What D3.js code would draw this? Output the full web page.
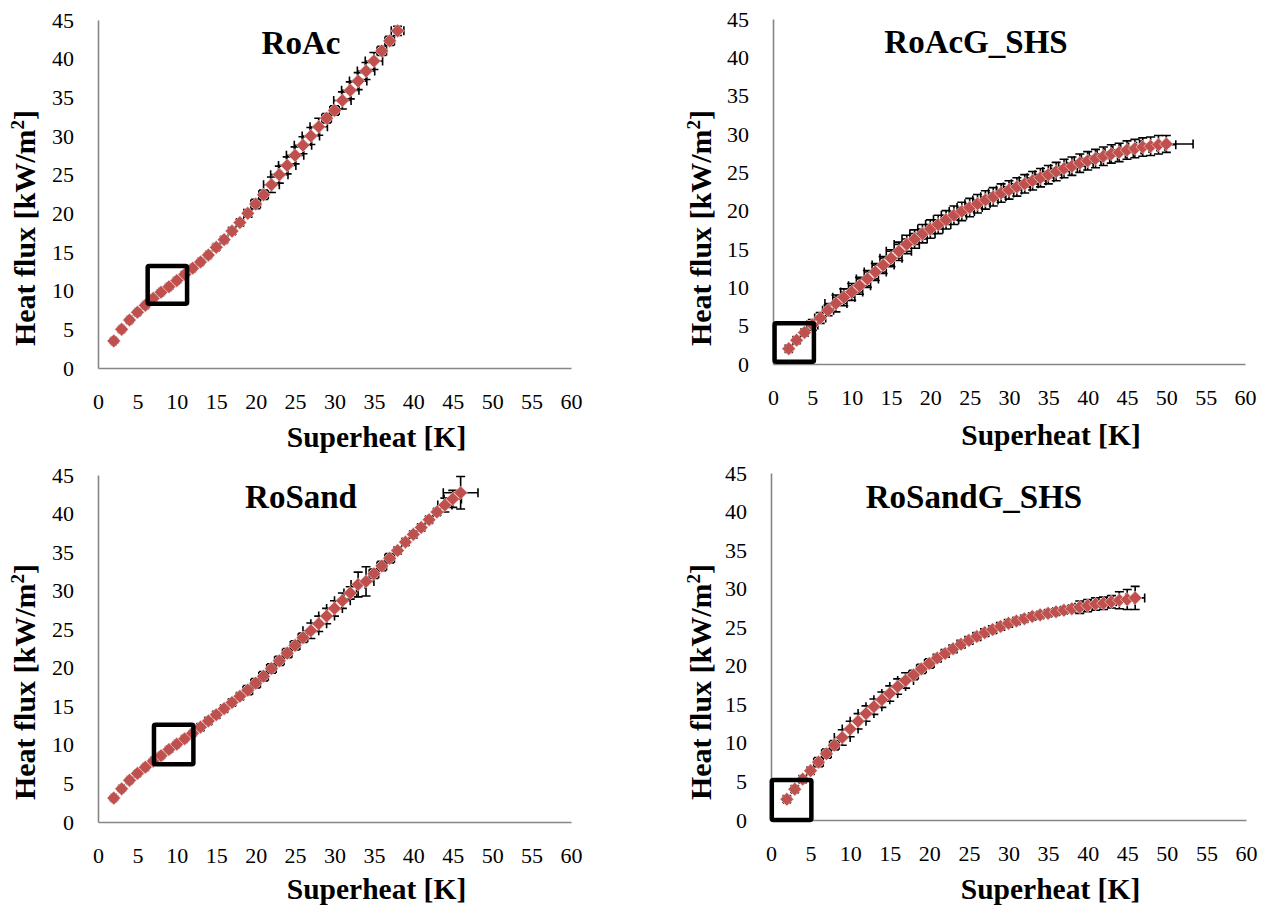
<!DOCTYPE html>
<html><head><meta charset="utf-8">
<script src="https://cdn.jsdelivr.net/npm/d3@7"></script>
<style>body{margin:0;background:#fff}svg{display:block}text{font-family:'Liberation Serif','Times New Roman',Times,serif}</style>
</head><body>
<svg id="chart" width="1276" height="913"></svg>
<script>
// ---------- data ----------
const xTicks = [0,5,10,15,20,25,30,35,40,45,50,55,60];
const yTicks = [0,5,10,15,20,25,30,35,40,45];
const panelTitles = ["RoAc","RoAcG_SHS","RoSand","RoSandG_SHS"];
const xTitle = "Superheat [K]";

const roAcX = [2,3,4,5,6,7,8,9,10,11,12,13,14,15,16,17,18,19,20,21,22,23,24,25,26,27,28,29,30,31,32,33,34,35,36,37,38];
const roAcY = [3.5,5.0,6.2,7.2,8.1,9.0,9.8,10.5,11.3,12.1,12.9,13.7,14.6,15.6,16.6,17.7,18.8,20.0,21.2,22.4,23.7,25.0,26.2,27.5,28.8,30.0,31.2,32.3,33.3,34.6,35.9,37.1,38.4,39.7,41.0,42.3,43.6];
const roAcXErr = [0.3,0.3,0.3,0.3,0.3,0.3,0.3,0.3,0.3,0.3,0.3,0.3,0.3,0.35,0.35,0.4,0.4,0.5,0.6,0.6,1.0,1.1,1.1,1.1,1.1,1.1,1.1,0.6,0.6,1.1,1.1,1.1,1.1,1.1,0.6,0.6,0.8];
const roAcYErr = [0.3,0.3,0.3,0.3,0.3,0.3,0.3,0.3,0.3,0.3,0.3,0.3,0.3,0.35,0.35,0.4,0.4,0.5,0.6,0.6,1.0,1.1,1.1,1.1,1.1,1.1,1.1,0.6,0.6,1.1,1.1,1.1,1.1,1.1,0.6,0.6,0.6];
const roAcBox = [6.3,11.3,8.3,13.2];

const roAcGX = [2,3,4,5,6,7,8,9,10,11,12,13,14,15,16,17,18,19,20,21,22,23,24,25,26,27,28,29,30,31,32,33,34,35,36,37,38,39,40,41,42,43,44,45,46,47,48,49,50];
const roAcGY = [2.0,3.1,4.1,5.1,6.0,7.0,7.9,8.7,9.4,10.2,11.1,12.0,12.9,13.8,14.7,15.6,16.3,17.0,17.6,18.2,18.8,19.4,19.9,20.4,20.9,21.4,21.8,22.3,22.7,23.1,23.5,23.9,24.3,24.7,25.1,25.5,25.8,26.2,26.5,26.8,27.1,27.4,27.6,27.9,28.1,28.3,28.4,28.6,28.7];
const roAcGXErr = [0.4,0.4,0.4,0.7,0.7,0.7,1.4,1.4,1.4,1.4,1.4,1.4,1.4,1.4,1.6,1.6,1.6,1.6,1.6,1.6,1.6,1.6,1.6,1.6,1.6,1.6,1.6,1.6,1.6,1.7,1.7,1.7,1.7,1.7,1.7,1.7,1.7,1.7,1.7,1.8,1.8,1.8,1.8,1.8,1.8,1.8,1.8,2.2,3.4];
const roAcGYErr = [0.4,0.4,0.4,0.7,0.7,0.7,1.1,1.1,1.1,1.1,1.1,1.1,1.1,1.1,1.2,1.2,1.2,1.2,1.2,1.2,1.2,1.2,1.2,1.2,1.2,1.2,1.2,1.2,1.2,1.2,1.2,1.2,1.2,1.2,1.2,1.2,1.2,1.2,1.2,1.2,1.2,1.2,1.2,1.2,1.2,1.2,1.2,1.2,1.1];
const roAcGBox = [0.2,5.2,0.3,5.3];

const roSandX = [2,3,4,5,6,7,8,9,10,11,12,13,14,15,16,17,18,19,20,21,22,23,24,25,26,27,28,29,30,31,32,33,34,35,36,37,38,39,40,41,42,43,44,45,46];
const roSandY = [3.1,4.3,5.4,6.3,7.1,7.9,8.6,9.4,10.1,10.8,11.5,12.3,13.1,13.9,14.7,15.5,16.3,17.1,18.0,18.9,19.9,20.9,21.9,22.9,23.9,24.8,25.7,26.7,27.7,28.7,29.7,30.8,31.2,32.2,33.2,34.2,35.2,36.3,37.3,38.2,39.2,40.2,41.1,41.9,42.7];
const roSandXErr = [0.3,0.3,0.3,0.3,0.3,0.3,0.3,0.3,0.3,0.3,0.3,0.4,0.4,0.4,0.4,0.4,0.4,0.6,0.6,0.6,0.6,0.6,0.6,0.6,0.6,1.0,1.0,1.0,1.0,1.0,0.8,0.9,1.0,0.6,0.6,0.6,0.4,0.4,0.4,0.4,0.4,0.4,0.9,1.1,2.2];
const roSandYErr = [0.3,0.3,0.3,0.3,0.3,0.3,0.3,0.3,0.3,0.3,0.3,0.4,0.4,0.4,0.4,0.4,0.4,0.6,0.6,0.6,0.6,0.6,0.6,0.6,0.6,1.0,1.0,1.0,1.0,1.0,0.8,1.6,1.9,0.6,0.6,0.6,0.4,0.4,0.4,0.4,0.4,0.4,0.9,1.1,2.1];
const roSandBox = [7.1,12.1,7.5,12.6];

const roSandGX = [2,3,4,5,6,7,8,9,10,11,12,13,14,15,16,17,18,19,20,21,22,23,24,25,26,27,28,29,30,31,32,33,34,35,36,37,38,39,40,41,42,43,44,45,46];
const roSandGY = [2.7,4.0,5.3,6.4,7.5,8.6,9.7,10.7,11.8,12.8,13.8,14.7,15.6,16.4,17.3,18.1,18.8,19.6,20.3,21.0,21.6,22.2,22.8,23.3,23.8,24.3,24.7,25.1,25.5,25.8,26.1,26.4,26.6,26.8,27.0,27.2,27.4,27.6,27.8,28.0,28.1,28.3,28.5,28.6,28.8];
const roSandGXErr = [0.4,0.4,0.4,0.4,0.6,0.6,0.6,1.0,1.0,1.0,1.0,1.0,1.0,1.0,1.0,1.0,0.6,0.6,0.6,0.5,0.5,0.5,0.5,0.5,0.5,0.5,0.5,0.5,0.5,0.4,0.4,0.4,0.4,0.4,0.4,0.4,0.4,0.6,0.6,0.6,0.6,0.6,0.8,0.9,1.2];
const roSandGYErr = [0.4,0.4,0.4,0.4,0.6,0.6,0.6,1.0,1.0,1.0,1.0,1.0,1.0,1.0,1.0,1.0,0.6,0.6,0.6,0.5,0.5,0.5,0.5,0.5,0.5,0.5,0.5,0.5,0.5,0.4,0.4,0.4,0.4,0.4,0.4,0.4,0.4,0.8,0.8,0.8,0.8,0.8,1.1,1.3,1.5];
const roSandGBox = [0.1,5.1,0.0,5.2];

// ---------- layout ----------
const panels = [
  {title:panelTitles[0], xs:roAcX, ys:roAcY, xe:roAcXErr, ye:roAcYErr, box:roAcBox, L:98, R:571, T:20, B:368, titleBase:54, xTitleBase:447, yTitleX:35, yTitleY:228},
  {title:panelTitles[1], xs:roAcGX, ys:roAcGY, xe:roAcGXErr, ye:roAcGYErr, box:roAcGBox, L:773, R:1245, T:19, B:364, titleBase:53, xTitleBase:445, yTitleX:711, yTitleY:228},
  {title:panelTitles[2], xs:roSandX, ys:roSandY, xe:roSandXErr, ye:roSandYErr, box:roSandBox, L:98, R:571, T:475, B:822, titleBase:508, xTitleBase:899, yTitleX:35, yTitleY:682},
  {title:panelTitles[3], xs:roSandGX, ys:roSandGY, xe:roSandGXErr, ye:roSandGYErr, box:roSandGBox, L:771, R:1246, T:473, B:820, titleBase:508, xTitleBase:899, yTitleX:711, yTitleY:682}
];

const svg = d3.select("#chart");
svg.append("rect").attr("width",1276).attr("height",913).attr("fill","#fff");
const serif = "'Liberation Serif','Times New Roman',Times,serif";
const red = "#C0504D";
const cap = 4.5;

panels.forEach(p => {
  const x = d3.scaleLinear().domain([0,60]).range([p.L,p.R]);
  const y = d3.scaleLinear().domain([0,45]).range([p.B,p.T]);
  const g = svg.append("g");

  const gx = g.append("g").attr("transform",`translate(0,${p.B})`)
    .call(d3.axisBottom(x).tickValues(xTicks).tickSize(0).tickSizeOuter(0).tickPadding(25));
  const gy = g.append("g").attr("transform",`translate(${p.L},0)`)
    .call(d3.axisLeft(y).tickValues(yTicks).tickSize(0).tickSizeOuter(0).tickPadding(24));
  [gx,gy].forEach(a => {
    a.attr("font-family",null).attr("font-size",null);
    a.select(".domain").attr("stroke","#868686").attr("stroke-width",1.6);
    a.selectAll("text").style("font-family",serif).style("font-size","22px").attr("fill","#000");
  });

  const pts = p.xs.map((v,i)=>({x:v,y:p.ys[i],xe:p.xe[i],ye:p.ye[i]}));
  const eb = g.append("g").attr("stroke","#000").attr("stroke-width",1.6).attr("fill","none");
  pts.forEach(d => {
    const cx = x(d.x), cy = y(d.y);
    const x0 = x(d.x-d.xe), x1 = x(d.x+d.xe), y0 = y(d.y-d.ye), y1 = y(d.y+d.ye);
    eb.append("path").attr("d",
      `M${x0},${cy}H${x1}M${x0},${cy-cap}V${cy+cap}M${x1},${cy-cap}V${cy+cap}` +
      `M${cx},${y0}V${y1}M${cx-cap},${y0}H${cx+cap}M${cx-cap},${y1}H${cx+cap}`);
  });

  const r = 6.8;
  g.append("g").selectAll("path").data(pts).join("path")
    .attr("d", d => `M${x(d.x)},${y(d.y)-r}L${x(d.x)+r},${y(d.y)}L${x(d.x)},${y(d.y)+r}L${x(d.x)-r},${y(d.y)}Z`)
    .attr("fill",red).attr("stroke","#f4dede").attr("stroke-width",0.6);

  const b = p.box;
  g.append("rect").attr("x",x(b[0])).attr("y",y(b[3]))
    .attr("width",x(b[1])-x(b[0])).attr("height",y(b[2])-y(b[3]))
    .attr("fill","none").attr("stroke","#000").attr("stroke-width",4.5).attr("rx",1.5);

  g.append("text").attr("x",p.L+203).attr("y",p.titleBase).attr("text-anchor","middle")
    .style("font-family",serif).attr("font-weight","bold").attr("font-size",33).text(p.title);

  g.append("text").attr("x",p.L+42+(p.R-p.L)/2).attr("y",p.xTitleBase).attr("text-anchor","middle")
    .style("font-family",serif).attr("font-weight","bold").attr("font-size",29.5).text(xTitle);

  const yt = g.append("text").attr("transform",`translate(${p.yTitleX},${p.yTitleY}) rotate(-90)`)
    .attr("text-anchor","middle").style("font-family",serif).attr("font-weight","bold").attr("font-size",30);
  yt.append("tspan").text("Heat flux [kW/m");
  yt.append("tspan").attr("dy",-11).attr("font-size",19).text("2");
  yt.append("tspan").attr("dy",11).text("]");
});
</script>
</body></html>
